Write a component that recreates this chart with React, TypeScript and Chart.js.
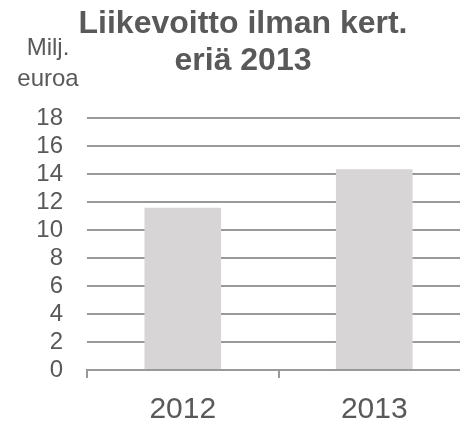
import React, { useEffect, useRef } from "react";
import { Chart, registerables } from "chart.js";

Chart.register(...registerables);

const categories = ["2012", "2013"];
const values = [11.6, 14.35];
const yTicks = [0, 2, 4, 6, 8, 10, 12, 14, 16, 18];
const titleLines = ["Liikevoitto ilman kert.", "eriä 2013"];
const unitLines = ["Milj.", "euroa"];

const FONT = "'Liberation Sans', Arial, sans-serif";
const TEXT = "#595959";

const unitPlugin = {
  id: "unitLabel",
  afterDraw(chart: any) {
    const ctx = chart.ctx;
    ctx.save();
    ctx.fillStyle = TEXT;
    ctx.font = `24px ${FONT}`;
    ctx.textAlign = "center";
    ctx.textBaseline = "alphabetic";
    unitLines.forEach((t, i) => ctx.fillText(t, 48, 55 + i * 31));
    ctx.restore();
  },
};

export default function App() {
  const ref = useRef<HTMLCanvasElement>(null);
  useEffect(() => {
    if (!ref.current) return;
    const chart = new Chart(ref.current, {
      type: "bar",
      data: {
        labels: categories,
        datasets: [
          {
            data: values,
            backgroundColor: "#d7d5d6",
            borderWidth: 0,
            categoryPercentage: 1,
            barPercentage: 0.4,
          },
        ],
      },
      options: {
        responsive: false,
        animation: false,
        devicePixelRatio: 1,
        layout: { padding: { left: 16, right: 0, top: 0, bottom: 0 } },
        plugins: {
          legend: { display: false },
          tooltip: { enabled: false },
          title: {
            display: true,
            text: titleLines,
            color: TEXT,
            font: { family: FONT, size: 32, weight: "bold", lineHeight: 1.15 },
            padding: { top: 5.5, bottom: 39 },
          },
        },
        scales: {
          x: {
            afterFit(scale: any) {
              scale.height = 55;
            },
            grid: {
              display: true,
              drawOnChartArea: false,
              drawTicks: true,
              tickLength: 8,
              color: "#999999",
              lineWidth: 2,
              offset: true,
            },
            border: { display: true, color: "#999999", width: 2 },
            ticks: {
              color: TEXT,
              font: { family: FONT, size: 30 },
              padding: 14,
            },
          },
          y: {
            min: 0,
            max: 18,
            afterFit(scale: any) {
              scale.width = 71;
            },
            afterBuildTicks(scale: any) {
              scale.ticks = yTicks.map((v) => ({ value: v }));
            },
            grid: {
              color: "#999999",
              lineWidth: 2,
              drawTicks: false,
            },
            border: { display: false },
            ticks: {
              autoSkip: false,
              stepSize: 2,
              color: TEXT,
              font: { family: FONT, size: 24 },
              padding: 24,
            },
          },
        },
      },
      plugins: [unitPlugin],
    });
    return () => chart.destroy();
  }, []);
  return (
    <div
      style={{
        position: "absolute",
        left: 0,
        top: 0,
        width: 460,
        height: 425,
        overflow: "hidden",
        background: "#fff",
      }}
    >
      <canvas ref={ref} width={470} height={425} style={{ display: "block" }} />
    </div>
  );
}
